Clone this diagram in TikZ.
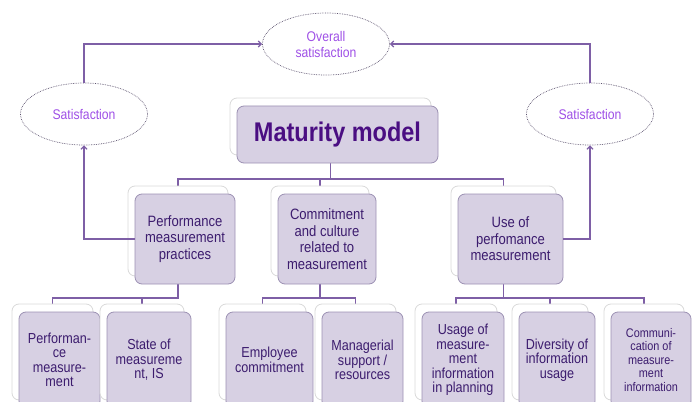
\documentclass[tikz,border=0pt]{standalone}
\usepackage{fontspec}
\setmainfont[FakeStretch=0.87]{Liberation Sans}
\usepackage{tikz}
\usetikzlibrary{arrows.meta,shapes.geometric,backgrounds}
\definecolor{boxfill}{HTML}{D7D0E3}
\definecolor{boxline}{HTML}{9C91B3}
\definecolor{boxtext}{HTML}{3C1C6E}
\definecolor{titletext}{HTML}{4A0E82}
\definecolor{linkline}{HTML}{7E5FA6}
\definecolor{ovaltext}{HTML}{9E4FE6}
\definecolor{ovalline}{HTML}{5E5470}

\begin{document}
\begin{tikzpicture}[x=1pt, y=-1pt,
  mainbox/.style={draw=boxline, fill=boxfill, rounded corners=7pt, line width=0.8pt,
    text=boxtext, align=center, inner sep=1pt},
  backbox/.style={draw=gray!30, fill=white, rounded corners=7pt, line width=0.8pt},
  lvlone/.style={font=\fontsize{15}{16.5}\selectfont},
  lvltwo/.style={font=\fontsize{14.5}{14.5}\selectfont},
  oval/.style={ellipse, draw=ovalline, densely dotted, line width=0.7pt, text=ovaltext,
    align=center, minimum width=127pt, minimum height=62pt, inner sep=0pt,
    font=\fontsize{14}{16}\selectfont},
  link/.style={draw=linkline, line width=1.3pt},
  feed/.style={link, -{Straight Barb[length=3pt,width=6pt]}}]
\useasboundingbox (0,0) rectangle (695,401);
\clip (0,0) rectangle (695,401);

%%%%% Satisfaction ovals %%%%%
\node[oval] (ov) at (326,44) {Overall\\satisfaction};
\node[oval] (sl) at (84,114) {Satisfaction};
\node[oval] (sr) at (590,114) {Satisfaction};

%%%%% Top box %%%%%
\node[backbox, minimum width=201pt, minimum height=57pt] (mm-s) at (330.5,126.5) {};
\node[mainbox, minimum width=201pt, minimum height=57pt, text=titletext,
  font=\fontsize{27}{30}\selectfont\bfseries] (mm) at (337.5,134.5) {Maturity model};

%%%%% Level one %%%%%
\node[backbox, minimum width=100pt, minimum height=90pt] (pmp-s) at (178,231) {};
\node[mainbox, lvlone, minimum width=100pt, minimum height=90pt] (pmp) at (185,239)
  {Performance\\measurement\\practices};
\node[backbox, minimum width=98pt, minimum height=90pt] (ccm-s) at (320,231) {};
\node[mainbox, lvlone, minimum width=98pt, minimum height=90pt] (ccm) at (327,239)
  {Commitment\\and culture\\related to\\measurement};
\node[backbox, minimum width=105pt, minimum height=90pt] (upm-s) at (503.5,231) {};
\node[mainbox, lvlone, minimum width=105pt, minimum height=90pt] (upm) at (510.5,239)
  {Use of\\perfomance\\measurement};

%%%%% Level two %%%%%
\node[backbox, minimum width=81pt, minimum height=96pt] (pm-s) at (52.5,352) {};
\node[mainbox, lvltwo, minimum width=81pt, minimum height=96pt] (pm) at (59.5,360)
  {Performan-\\ce\\measure-\\ment};
\node[backbox, minimum width=84pt, minimum height=96pt] (sm-s) at (142,352) {};
\node[mainbox, lvltwo, minimum width=84pt, minimum height=96pt] (sm) at (149,360)
  {State of\\measureme\\nt, IS};
\node[backbox, minimum width=87pt, minimum height=96pt] (ec-s) at (262.5,352) {};
\node[mainbox, lvltwo, minimum width=87pt, minimum height=96pt] (ec) at (269.5,360)
  {Employee\\commitment};
\node[backbox, minimum width=81pt, minimum height=96pt] (ms-s) at (355.5,352) {};
\node[mainbox, lvltwo, minimum width=81pt, minimum height=96pt] (ms) at (362.5,360)
  {Managerial\\support /\\resources};
\node[backbox, minimum width=82pt, minimum height=96pt] (ui-s) at (456,352) {};
\node[mainbox, lvltwo, minimum width=82pt, minimum height=96pt] (ui) at (463,360)
  {Usage of\\measure-\\ment\\information\\in planning};
\node[backbox, minimum width=76pt, minimum height=96pt] (di-s) at (550,352) {};
\node[mainbox, lvltwo, minimum width=76pt, minimum height=96pt] (di) at (557,360)
  {Diversity of\\information\\usage};
\node[backbox, minimum width=80pt, minimum height=96pt] (ci-s) at (644,352) {};
\node[mainbox, minimum width=80pt, minimum height=96pt,
  font=\fontsize{12.5}{13.5}\selectfont] (ci) at (651,360)
  {Communi-\\cation of\\measure-\\ment\\information};

%%%%% Tree lines %%%%%
\coordinate (lvl1) at (0,179);
\coordinate (lvl2) at (0,298);
\begin{scope}[on background layer]
\draw[link] (mm-s.south) -- (mm-s.south |- lvl1);
\draw[link] (pmp-s.north) |- (upm-s.north |- lvl1) -- (upm-s.north);
\draw[link] (ccm-s.north) -- (ccm-s.north |- lvl1);
\draw[link] (pmp-s.south) |- (pm-s.north |- lvl2) -- (pm-s.north);
\draw[link] (sm-s.north) -- (sm-s.north |- lvl2);
\draw[link] (ccm-s.south) -- (ccm-s.south |- lvl2);
\draw[link] (ec-s.north) |- (ms-s.north |- lvl2) -- (ms-s.north);
\draw[link] (upm-s.south) -- (upm-s.south |- lvl2);
\draw[link] (ui-s.north) |- (ci-s.north |- lvl2) -- (ci-s.north);
\draw[link] (di-s.north) -- (di-s.north |- lvl2);
\end{scope}

%%%%% Feedback %%%%%
\draw[feed] (pmp.west) -| (sl.south);
\draw[feed] (upm.east) -| (sr.south);
\draw[feed] (sl.north) |- (ov.west);
\draw[feed] (sr.north) |- (ov.east);
\end{tikzpicture}
\end{document}
